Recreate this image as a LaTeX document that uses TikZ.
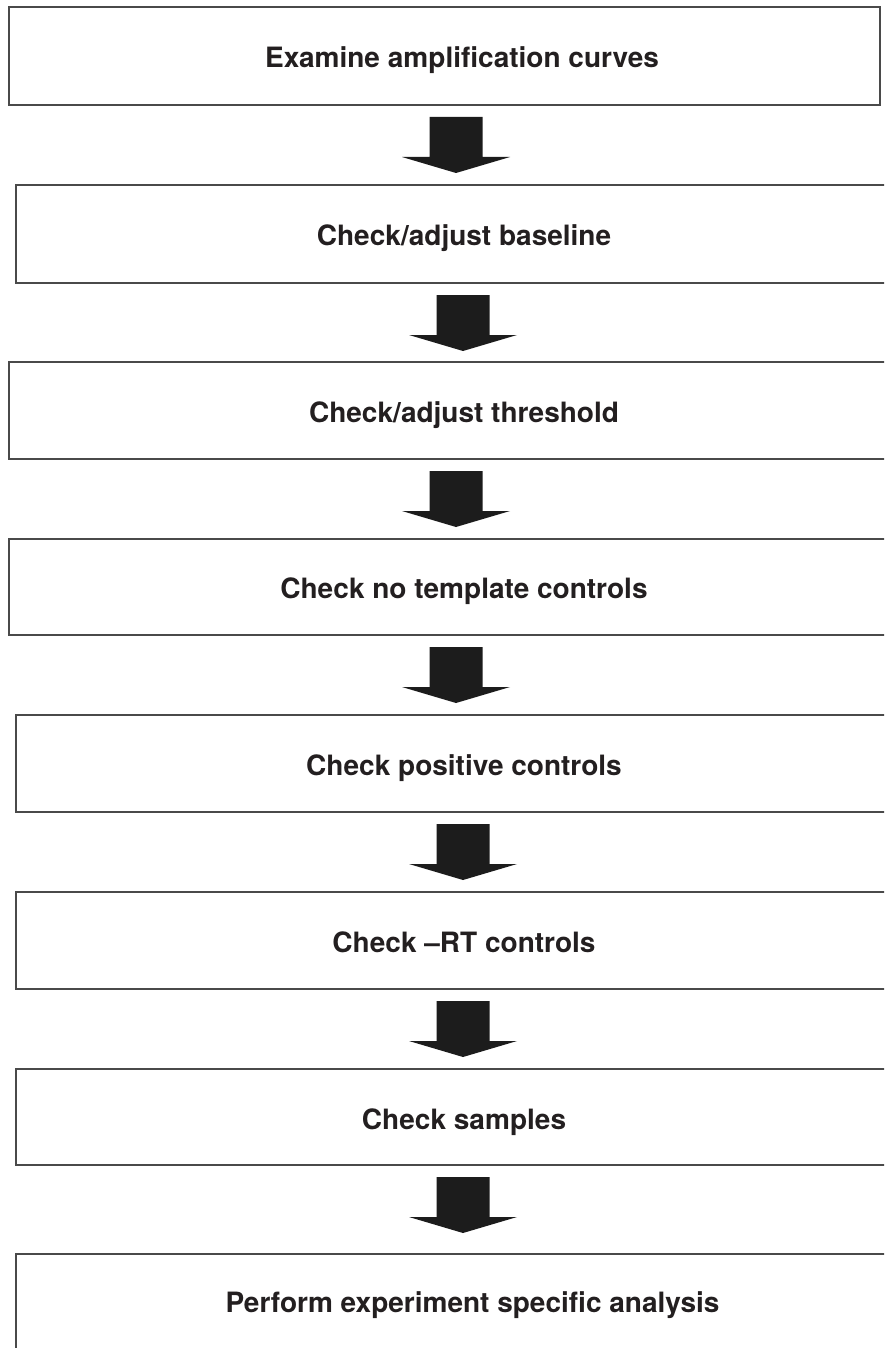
\documentclass[tikz,border=0pt]{standalone}
\usepackage{fontspec}
\setmainfont{TeX Gyre Heros}
\usetikzlibrary{calc}
\definecolor{boxline}{HTML}{4A4A4A}
\definecolor{arrowfill}{HTML}{1C1C1C}
\definecolor{txt}{HTML}{231F20}
\tikzset{
  stepbox/.style={draw=boxline, line width=2pt, fill=white, rectangle, inner sep=0pt, outer sep=0pt},
  steptext/.style={anchor=base, inner sep=0pt, text=txt, font=\fontsize{28}{32}\selectfont\bfseries},
  barrow/.pic={\fill[arrowfill] (-26.5,0) -- (26.5,0) -- (26.5,40) -- (54,40) -- (0,56) -- (-54,40) -- (-26.5,40) -- cycle;}
}
\begin{document}
\begin{tikzpicture}[x=1pt,y=-1pt]
\useasboundingbox (0,0) rectangle (884,1348);
\clip (0,0) rectangle (884,1348);
\fill[white] (0,0) rectangle (884,1348);
\node[stepbox, minimum width=871pt, minimum height=98pt] (b1) at (444.5,56) {};
\node[stepbox, minimum width=874pt, minimum height=98pt] (b2) at (453,234) {};
\node[stepbox, minimum width=881pt, minimum height=97pt] (b3) at (449.5,410.5) {};
\node[stepbox, minimum width=881pt, minimum height=96pt] (b4) at (449.5,587) {};
\node[stepbox, minimum width=874pt, minimum height=97pt] (b5) at (453,763.5) {};
\node[stepbox, minimum width=874pt, minimum height=97pt] (b6) at (453,940.5) {};
\node[stepbox, minimum width=874pt, minimum height=96pt] (b7) at (453,1117) {};
\node[stepbox, minimum width=874pt, minimum height=106pt] (b8) at (453,1307) {};
\node[steptext] (t1) at (462,68) {Examine amplification curves};
\node[steptext] (t2) at (464,246) {Check/adjust baseline};
\node[steptext] (t3) at (464,422) {Check/adjust threshold};
\node[steptext] (t4) at (464,598) {Check no template controls};
\node[steptext] (t5) at (464,775) {Check positive controls};
\node[steptext] (t6) at (464,952) {Check –RT controls};
\node[steptext] (t7) at (464,1129) {Check samples};
\node[steptext] (t8) at (472.5,1312) {Perform experiment specific analysis};
\coordinate (colA) at (456,0);
\coordinate (colB) at (463,0);
\pic at ($(b1.south -| colA)+(0,12)$) {barrow};
\pic at ($(b2.south -| colB)+(0,12)$) {barrow};
\pic at ($(b3.south -| colA)+(0,12)$) {barrow};
\pic at ($(b4.south -| colA)+(0,12)$) {barrow};
\pic at ($(b5.south -| colB)+(0,12)$) {barrow};
\pic at ($(b6.south -| colB)+(0,12)$) {barrow};
\pic at ($(b7.south -| colB)+(0,12)$) {barrow};
\end{tikzpicture}
\end{document}
